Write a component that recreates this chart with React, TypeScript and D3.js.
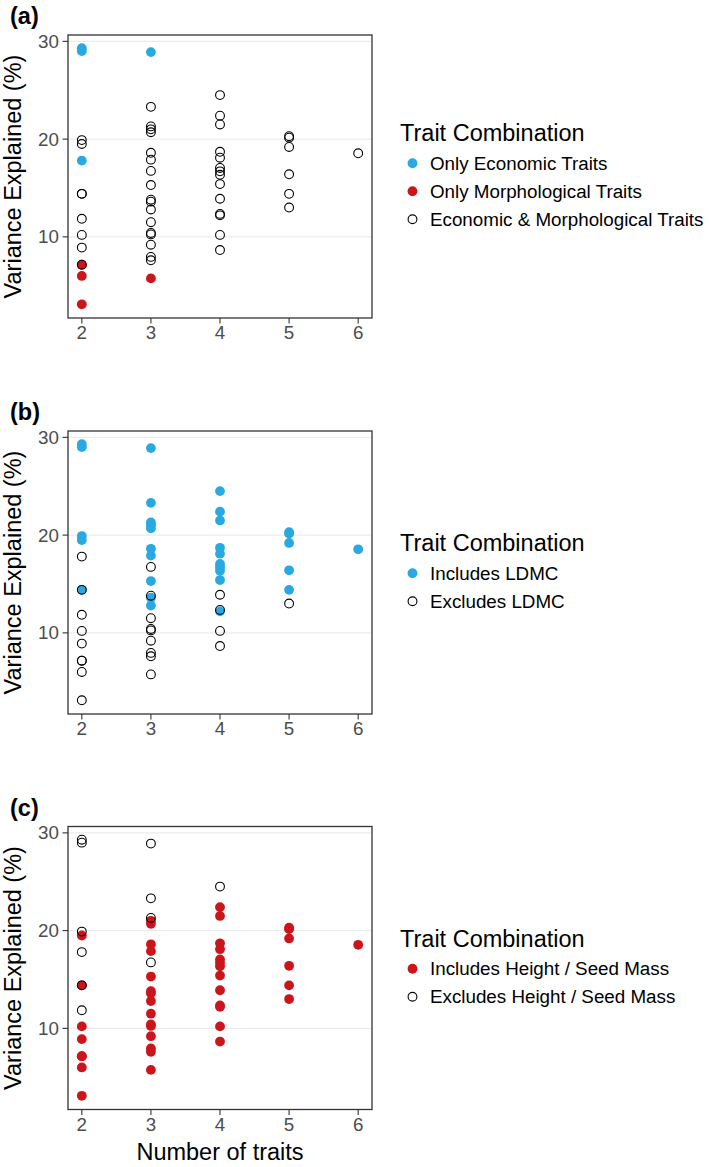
import { useEffect } from "react";
import * as d3 from "d3";

// number of traits in each combination (x) and variance explained (y)
const nTraits = [
  2, 2, 2, 2, 2, 2, 2, 2, 2, 2, 2, 2, 2, 2,
  3, 3, 3, 3, 3, 3, 3, 3, 3, 3, 3, 3, 3, 3, 3, 3, 3, 3, 3,
  4, 4, 4, 4, 4, 4, 4, 4, 4, 4, 4, 4, 4, 4,
  5, 5, 5, 5, 5, 5,
  6,
];
const variance = [
  29.3, 29.0, 19.9, 19.5, 17.8, 14.4, 14.4, 11.85, 10.2, 8.9, 7.15, 7.15, 6.0, 3.1,
  28.9, 23.3, 21.3, 21.0, 20.7, 18.6, 17.9, 16.75, 15.3, 13.8, 13.6, 12.8, 11.5, 10.4, 10.25, 9.2, 7.95, 7.6, 5.75,
  24.5, 22.4, 21.5, 18.7, 18.1, 17.05, 16.7, 16.35, 15.4, 13.9, 12.35, 12.2, 10.2, 8.65,
  20.3, 20.15, 19.2, 16.4, 14.4, 13.0,
  18.55,
];

// (a) E = only economic, M = only morphological, B = both
const traitType = [
  "E", "E", "B", "B", "E", "B", "B", "B", "B", "B", "M", "B", "M", "M",
  "E", "B", "B", "B", "B", "B", "B", "B", "B", "B", "B", "B", "B", "B", "B", "B", "B", "B", "M",
  "B", "B", "B", "B", "B", "B", "B", "B", "B", "B", "B", "B", "B", "B",
  "B", "B", "B", "B", "B", "B",
  "B",
];
// (b) I = includes LDMC, X = excludes
const ldmc = [
  "I", "I", "I", "I", "X", "I", "X", "X", "X", "X", "X", "X", "X", "X",
  "I", "I", "I", "I", "I", "I", "I", "X", "I", "X", "I", "I", "X", "X", "X", "X", "X", "X", "X",
  "I", "I", "I", "I", "I", "I", "I", "I", "I", "X", "X", "I", "X", "X",
  "I", "I", "I", "I", "I", "X",
  "I",
];
// (c) I = includes height / seed mass, X = excludes
const heightSeed = [
  "X", "X", "X", "I", "X", "I", "X", "X", "I", "I", "I", "I", "I", "I",
  "X", "X", "X", "I", "I", "I", "I", "X", "I", "I", "I", "I", "I", "I", "I", "I", "I", "I", "I",
  "X", "I", "I", "I", "I", "I", "I", "I", "I", "I", "I", "I", "I", "I",
  "I", "I", "I", "I", "I", "I",
  "I",
];

const xTicks = [2, 3, 4, 5, 6];
const yTicks = [10, 20, 30];

const BLUE = "#29a9e1";
const RED = "#cc151b";
const OPEN = "open";

const panels = [
  {
    tag: "(a)",
    groups: traitType,
    keys: ["E", "M", "B"],
    labels: ["Only Economic Traits", "Only Morphological Traits", "Economic & Morphological Traits"],
    colors: [BLUE, RED, OPEN],
    top: 35,
  },
  {
    tag: "(b)",
    groups: ldmc,
    keys: ["I", "X"],
    labels: ["Includes LDMC", "Excludes LDMC"],
    colors: [BLUE, OPEN],
    top: 431,
  },
  {
    tag: "(c)",
    groups: heightSeed,
    keys: ["I", "X"],
    labels: ["Includes Height / Seed Mass", "Excludes Height / Seed Mass"],
    colors: [RED, OPEN],
    top: 826.5,
  },
];

const W = 709;
const H = 1167;
const left = 68;
const right = 372;
const plotH = 283;
const font = "'Liberation Sans', Arial, Helvetica, sans-serif";

const Dot = ({ cx, cy, color }: { cx: number; cy: number; color: string }) =>
  color === OPEN ? (
    <circle cx={cx} cy={cy} r={4.4} fill="none" stroke="#000" strokeWidth={1.1} />
  ) : (
    <circle cx={cx} cy={cy} r={4.9} fill={color} />
  );

const Panel = ({ p }: { p: (typeof panels)[number] }) => {
  const x = d3.scaleLinear().domain([1.8, 6.2]).range([left, right]);
  const y = d3.scaleLinear().domain([1.7, 30.65]).range([p.top + plotH, p.top]);
  const colorOf = d3.scaleOrdinal<string, string>().domain(p.keys).range(p.colors);
  const idx = d3.range(variance.length);
  // filled points first, open circles on top
  const ordered = [
    ...idx.filter((i) => colorOf(p.groups[i]) !== OPEN),
    ...idx.filter((i) => colorOf(p.groups[i]) === OPEN),
  ];
  const bottom = p.top + plotH;
  const mid = p.top + plotH / 2;
  const n = p.keys.length;
  const blockH = 39 + (n - 1) * 28 + 9.5;
  const titleBase = mid - blockH / 2 + 17;
  const firstItem = titleBase + 22;

  return (
    <g>
      <text x={10} y={p.top - 11} fontSize={23.5} fontWeight="bold" fill="#000">
        {p.tag}
      </text>
      {yTicks.map((t) => (
        <line key={t} x1={left} x2={right} y1={y(t)} y2={y(t)} stroke="#ebebeb" strokeWidth={1.1} />
      ))}
      {ordered.map((i) => (
        <Dot key={i} cx={x(nTraits[i])} cy={y(variance[i])} color={colorOf(p.groups[i])} />
      ))}
      <rect x={left} y={p.top} width={right - left} height={plotH} fill="none" stroke="#333" strokeWidth={1.3} />
      {yTicks.map((t) => (
        <g key={t}>
          <line x1={left - 5.5} x2={left} y1={y(t)} y2={y(t)} stroke="#333" strokeWidth={1.1} />
          <text x={left - 9} y={y(t)} dy="0.35em" textAnchor="end" fontSize={18.8} fill="#4d4d4d">
            {t}
          </text>
        </g>
      ))}
      {xTicks.map((t) => (
        <g key={t}>
          <line x1={x(t)} x2={x(t)} y1={bottom} y2={bottom + 5.5} stroke="#333" strokeWidth={1.1} />
          <text x={x(t)} y={bottom + 21} textAnchor="middle" fontSize={18.8} fill="#4d4d4d">
            {t}
          </text>
        </g>
      ))}
      <text
        transform={`translate(21 ${mid}) rotate(-90)`}
        textAnchor="middle"
        fontSize={23.5}
        fill="#000"
      >
        Variance Explained (%)
      </text>
      <text x={400} y={titleBase} fontSize={23.5} fill="#000">
        Trait Combination
      </text>
      {p.keys.map((k, j) => (
        <g key={k}>
          <Dot cx={412.5} cy={firstItem + j * 28} color={p.colors[j]} />
          <text x={430} y={firstItem + j * 28} dy="0.35em" fontSize={18.8} fill="#000">
            {p.labels[j]}
          </text>
        </g>
      ))}
    </g>
  );
};

export default function App() {
  useEffect(() => {
    document.body.style.margin = "0";
  }, []);
  return (
    <svg width={W} height={H} style={{ display: "block", background: "#fff" }} fontFamily={font}>
      {panels.map((p) => (
        <Panel key={p.tag} p={p} />
      ))}
      <text x={(left + right) / 2} y={1160} textAnchor="middle" fontSize={23.5} fill="#000">
        Number of traits
      </text>
    </svg>
  );
}
